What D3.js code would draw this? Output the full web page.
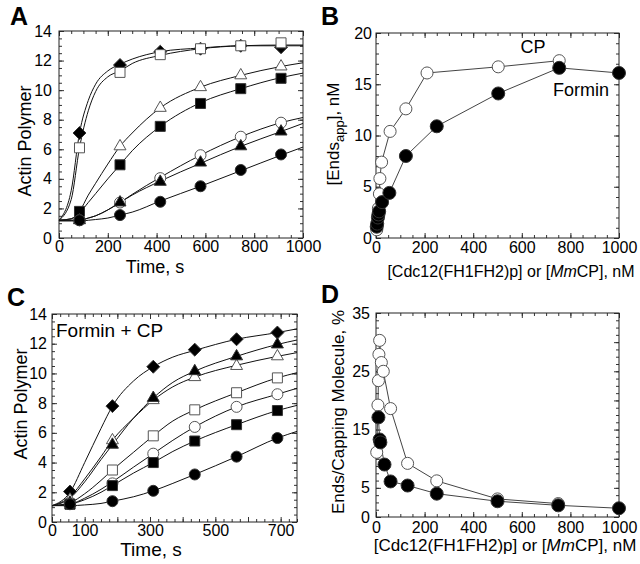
<!DOCTYPE html>
<html>
<head>
<meta charset="utf-8">
<script src="https://cdn.jsdelivr.net/npm/d3@7"></script>
<style>
body { margin: 0; background: #fff; }
svg text { font-family: "Liberation Sans", Arial, Helvetica, sans-serif; fill: #000; }
</style>
</head>
<body>
<div id="chart"></div>
<script>
// ---------- Panel A : polymerization time courses, formin ----------
var aTraceT   = [0, 50, 84, 120, 150, 200, 250, 300, 415, 580, 745, 910, 1000];
var aMarkT    = [84, 250, 415, 580, 745, 910];
var aSeries = [
  { shape: 'diamond',  filled: true,
    trace: [1.2, 3.2, 7.1, 9.3, 10.4, 11.3, 11.75, 12.1, 12.6, 12.85, 13.0, 13.0, 13.0],
    marks: [7.1, 11.7, 12.6, 12.8, 13.0, 12.9] },
  { shape: 'square',   filled: false,
    trace: [1.2, 2.6, 6.1, 8.6, 9.9, 10.9, 11.3, 11.8, 12.35, 12.8, 13.0, 13.05, 13.05],
    marks: [6.1, 11.2, 12.4, 12.8, 13.0, 13.2] },
  { shape: 'triangle', filled: false,
    trace: [1.2, 1.3, 1.8, 2.9, 3.7, 5.0, 6.2, 7.1, 8.8, 10.2, 11.0, 11.6, 11.85],
    marks: [1.3, 6.2, 8.8, 10.2, 11.0, 11.6] },
  { shape: 'square',   filled: true,
    trace: [1.2, 1.3, 1.7, 2.4, 3.0, 4.0, 4.95, 5.9, 7.55, 9.15, 10.1, 10.85, 11.15],
    marks: [1.8, 4.95, 7.55, 9.1, 10.1, 10.8] },
  { shape: 'circle',   filled: false,
    trace: [1.2, 1.2, 1.2, 1.35, 1.5, 1.9, 2.4, 2.95, 4.1, 5.6, 6.85, 7.8, 8.15],
    marks: [1.2, 2.4, 4.05, 5.6, 6.85, 7.8] },
  { shape: 'triangle', filled: true,
    trace: [1.2, 1.2, 1.2, 1.35, 1.5, 1.9, 2.4, 2.9, 3.85, 5.05, 6.2, 7.2, 7.75],
    marks: [1.2, 2.4, 3.8, 5.1, 6.2, 7.2] },
  { shape: 'circle',   filled: true,
    trace: [1.15, 1.15, 1.15, 1.2, 1.25, 1.35, 1.55, 1.75, 2.5, 3.5, 4.55, 5.6, 6.15],
    marks: [1.2, 1.55, 2.45, 3.5, 4.6, 5.65] }
];

// ---------- Panel B : apparent ends vs concentration ----------
var bCpConc     = [3, 10, 14, 16, 23, 58, 123, 210, 503, 754];
var bCpEnds     = [0.8, 2.9, 4.3, 5.8, 7.4, 10.4, 12.6, 16.1, 16.7, 17.3];
var bForminConc = [3, 5, 8, 10, 13, 25, 55, 123, 250, 503, 754, 1000];
var bForminEnds = [1.1, 1.4, 2.0, 2.3, 2.6, 3.5, 4.4, 8.0, 10.9, 14.1, 16.6, 16.1];

// ---------- Panel C : polymerization time courses, formin + CP ----------
var cTraceT = [0, 55, 100, 150, 185, 250, 310, 370, 437, 565, 690, 750];
var cMarkT  = [55, 185, 310, 437, 565, 690];
var cSeries = [
  { shape: 'diamond',  filled: true,
    trace: [1.1, 2.0, 4.0, 6.3, 7.8, 9.5, 10.45, 11.1, 11.55, 12.3, 12.75, 13.0],
    marks: [2.05, 7.8, 10.45, 11.6, 12.3, 12.75] },
  { shape: 'triangle', filled: false,
    trace: [1.1, 1.7, 2.9, 4.4, 5.5, 7.0, 8.2, 9.1, 9.75, 10.55, 11.15, 11.4],
    marks: [1.5, 5.5, 8.2, 9.75, 10.5, 11.15] },
  { shape: 'triangle', filled: true,
    trace: [1.1, 1.6, 2.7, 4.2, 5.2, 7.0, 8.35, 9.4, 10.15, 11.15, 11.95, 12.25],
    marks: [1.3, 5.2, 8.35, 10.15, 11.15, 11.95] },
  { shape: 'square',   filled: false,
    trace: [1.1, 1.3, 1.9, 2.8, 3.5, 4.7, 5.8, 6.8, 7.55, 8.7, 9.7, 10.05],
    marks: [1.2, 3.5, 5.8, 7.55, 8.7, 9.7] },
  { shape: 'circle',   filled: false,
    trace: [1.1, 1.2, 1.6, 2.2, 2.7, 3.7, 4.6, 5.5, 6.4, 7.75, 8.6, 9.0],
    marks: [1.2, 2.6, 4.6, 6.4, 7.75, 8.6] },
  { shape: 'square',   filled: true,
    trace: [1.1, 1.2, 1.5, 2.0, 2.45, 3.3, 4.0, 4.75, 5.45, 6.55, 7.5, 7.85],
    marks: [1.2, 2.45, 4.0, 5.45, 6.55, 7.5] },
  { shape: 'circle',   filled: true,
    trace: [1.1, 1.1, 1.15, 1.25, 1.4, 1.7, 2.1, 2.6, 3.2, 4.4, 5.65, 6.1],
    marks: [1.2, 1.4, 2.1, 3.2, 4.4, 5.65] }
];

// ---------- Panel D : ends per capping molecule ----------
var dCpConc     = [3, 8, 10, 12, 15, 22, 30, 60, 130, 250, 500, 750];
var dCpPct      = [11.1, 19.2, 23.4, 27.9, 30.3, 26.5, 25.0, 18.6, 9.2, 6.2, 3.1, 2.3];
var dForminConc = [10, 15, 18, 35, 60, 130, 250, 500, 750, 1000];
var dForminPct  = [17.1, 13.3, 12.8, 9.0, 6.1, 5.4, 4.0, 2.7, 2.0, 1.5];

// tick labels
var aXTicks = [0, 200, 400, 600, 800, 1000];
var aYTicks = [0, 2, 4, 6, 8, 10, 12, 14];
var bYTicks = [0, 5, 10, 15, 20];
var cXTicks = [0, 100, 300, 500, 700];
var dYTicks = [0, 5, 15, 25, 35];

var width = 640, height = 564;
var FONT = '"Liberation Sans", Arial, Helvetica, sans-serif';

var svg = d3.select('#chart').append('svg')
  .attr('width', width)
  .attr('height', height);

// diamond drawn as a square turned 45 degrees
var symbolRhomb = {
  draw: function(ctx, size) {
    var r = Math.sqrt(size / 2);
    ctx.moveTo(0, -r); ctx.lineTo(r, 0); ctx.lineTo(0, r); ctx.lineTo(-r, 0); ctx.closePath();
  }
};
var shapes = {
  circle:   { type: d3.symbolCircle,   size: 95 },
  square:   { type: d3.symbolSquare,   size: 100 },
  triangle: { type: d3.symbolTriangle, size: 62 },
  diamond:  { type: symbolRhomb,       size: 84 }
};

function panel(p) {
  var x = d3.scaleLinear().domain(p.xDomain).range([p.left, p.right]);
  var y = d3.scaleLinear().domain(p.yDomain).range([p.bottom, p.top]);
  var g = svg.append('g');

  function ticks(axis, vals, size, labels, pad) {
    axis.tickValues(vals).tickSize(-size).tickPadding(pad || 4);
    if (!labels) axis.tickFormat('');
    return axis;
  }
  var sides = [
    { t: 'translate(0,' + p.bottom + ')', minor: p.xMinor, major: p.xMajor, lab: true, pad: p.xPad },
    { t: 'translate(0,' + p.top + ')',    minor: p.xMinor, major: p.xMajor, lab: false },
    { t: 'translate(' + p.left + ',0)',   minor: p.yMinor, major: p.yMajor, lab: true, pad: p.yPad },
    { t: 'translate(' + p.right + ',0)',  minor: p.yMinor, major: p.yMajor, lab: false }
  ];
  sides.forEach(function(s, i) {
    var base = [d3.axisBottom, d3.axisTop, d3.axisLeft, d3.axisRight][i];
    var sc = i < 2 ? x : y;
    g.append('g').attr('transform', s.t)
      .call(ticks(base(sc), s.minor, 3, false))
      .call(function(a) { a.select('.domain').remove(); });
    g.append('g').attr('transform', s.t)
      .call(ticks(base(sc), s.major, 5, s.lab, s.pad))
      .attr('font-size', 16).attr('font-family', FONT)
      .call(function(a) { a.select('.domain').remove(); })
      .call(function(a) {
        if (s.lab) {
          var labs = i < 2 ? p.xLabels : p.yLabels;
          a.selectAll('.tick text').text(function(d) { return labs.indexOf(d) >= 0 ? d : ''; });
        }
      });
  });
  g.selectAll('.tick line').attr('stroke', '#333');

  g.append('rect')
    .attr('x', p.left).attr('y', p.top)
    .attr('width', p.right - p.left).attr('height', p.bottom - p.top)
    .attr('fill', 'none').attr('stroke', '#222').attr('stroke-width', 1);

  return { g: g, x: x, y: y };
}

function markers(g, xs, ys, shape, filled, x, y, scale) {
  var sh = shapes[shape];
  var sym = d3.symbol().type(sh.type).size(sh.size * (scale || 1));
  g.append('g').selectAll('path')
    .data(xs.map(function(v, i) { return [v, ys[i]]; }))
    .enter().append('path')
    .attr('d', sym)
    .attr('transform', function(d) { return 'translate(' + x(d[0]) + ',' + y(d[1]) + ')'; })
    .attr('fill', filled ? '#000' : '#fff')
    .attr('stroke', filled ? '#333' : '#555')
    .attr('stroke-width', 1);
}

function lineOf(g, xs, ys, x, y, curve, color) {
  var line = d3.line()
    .x(function(d) { return x(d[0]); })
    .y(function(d) { return y(d[1]); })
    .curve(curve);
  g.append('path')
    .datum(xs.map(function(v, i) { return [v, ys[i]]; }))
    .attr('d', line)
    .attr('fill', 'none')
    .attr('stroke', color)
    .attr('stroke-width', 1);
}

function label(txt, x, y, size, opts) {
  opts = opts || {};
  var t = svg.append('text')
    .attr('x', x).attr('y', y)
    .attr('font-size', size)
    .attr('text-anchor', opts.anchor || 'middle')
    .attr('font-weight', opts.bold ? 'bold' : 'normal');
  if (opts.rotate) t.attr('transform', 'rotate(-90,' + x + ',' + y + ')');
  if (txt) t.text(txt);
  return t;
}

// ----- A -----
var A = panel({ left: 59, right: 303, top: 31, bottom: 238,
  xDomain: [0, 1000], yDomain: [0, 14],
  xMajor: d3.range(0, 1001, 200), xMinor: d3.range(0, 1001, 50), xLabels: aXTicks, xPad: 3,
  yMajor: d3.range(0, 15, 2), yMinor: d3.range(0, 14.01, 0.5), yLabels: aYTicks, yPad: 7 });
aSeries.forEach(function(s) { lineOf(A.g, aTraceT, s.trace, A.x, A.y, d3.curveMonotoneX, '#111'); });
aSeries.forEach(function(s) { markers(A.g, aMarkT, s.marks, s.shape, s.filled, A.x, A.y); });

// ----- B -----
var B = panel({ left: 376, right: 619, top: 33, bottom: 238,
  xDomain: [0, 1000], yDomain: [0, 20],
  xMajor: d3.range(0, 1001, 200), xMinor: d3.range(0, 1001, 50), xLabels: aXTicks, xPad: 4,
  yMajor: d3.range(0, 21, 5), yMinor: d3.range(0, 20.01, 1), yLabels: bYTicks, yPad: 4 });
lineOf(B.g, bCpConc, bCpEnds, B.x, B.y, d3.curveLinear, '#444');
lineOf(B.g, bForminConc, bForminEnds, B.x, B.y, d3.curveLinear, '#444');
markers(B.g, bCpConc, bCpEnds, 'circle', false, B.x, B.y, 1.2);
markers(B.g, bForminConc, bForminEnds, 'circle', true, B.x, B.y, 1.4);

// ----- C -----
var C = panel({ left: 52, right: 297, top: 314, bottom: 522,
  xDomain: [0, 750], yDomain: [0, 14],
  xMajor: d3.range(0, 751, 100), xMinor: d3.range(0, 751, 25), xLabels: cXTicks, xPad: 3,
  yMajor: d3.range(0, 15, 2), yMinor: d3.range(0, 14.01, 0.5), yLabels: aYTicks, yPad: 5 });
cSeries.forEach(function(s) { lineOf(C.g, cTraceT, s.trace, C.x, C.y, d3.curveMonotoneX, '#111'); });
cSeries.forEach(function(s) { markers(C.g, cMarkT, s.marks, s.shape, s.filled, C.x, C.y); });

// ----- D -----
var D = panel({ left: 376, right: 619, top: 313, bottom: 517,
  xDomain: [0, 1000], yDomain: [0, 35],
  xMajor: d3.range(0, 1001, 200), xMinor: d3.range(0, 1001, 50), xLabels: aXTicks, xPad: 5,
  yMajor: d3.range(0, 36, 5), yMinor: d3.range(0, 35.01, 1.25), yLabels: dYTicks, yPad: 6 });
lineOf(D.g, dCpConc, dCpPct, D.x, D.y, d3.curveLinear, '#444');
lineOf(D.g, dForminConc, dForminPct, D.x, D.y, d3.curveLinear, '#444');
markers(D.g, dCpConc, dCpPct, 'circle', false, D.x, D.y, 1.2);
markers(D.g, dForminConc, dForminPct, 'circle', true, D.x, D.y, 1.4);

// ----- panel letters -----
label('A', 10, 25, 25, { bold: true, anchor: 'start' });
label('B', 321, 25, 25, { bold: true, anchor: 'start' });
label('C', 7, 306, 25, { bold: true, anchor: 'start' });
label('D', 321, 303, 25, { bold: true, anchor: 'start' });

// ----- axis titles -----
label('Time, s', 155, 273, 18);
label('Time, s', 151, 556, 19);
label('Actin Polymer', 31, 141, 18, { rotate: true });
label('Actin Polymer', 27, 404, 18, { rotate: true });
label('Ends/Capping Molecule, %', 344, 412, 17, { rotate: true });

var by = label(null, 339, 134, 17, { rotate: true });
by.append('tspan').text('[Ends');
by.append('tspan').attr('dy', 5).attr('font-size', 13).text('app');
by.append('tspan').attr('dy', -5).text('], nM');

[[511, 277, 16], [505, 551, 17]].forEach(function(p) {
  var t = label(null, p[0], p[1], p[2]);
  t.append('tspan').text('[Cdc12(FH1FH2)p] or [');
  t.append('tspan').attr('font-style', 'italic').text('Mm');
  t.append('tspan').text('CP], nM');
});

// ----- annotations -----
label('CP', 533, 53, 18);
label('Formin', 581, 96, 18);
label('Formin + CP', 56, 337, 19, { anchor: 'start' });
</script>
</body>
</html>
